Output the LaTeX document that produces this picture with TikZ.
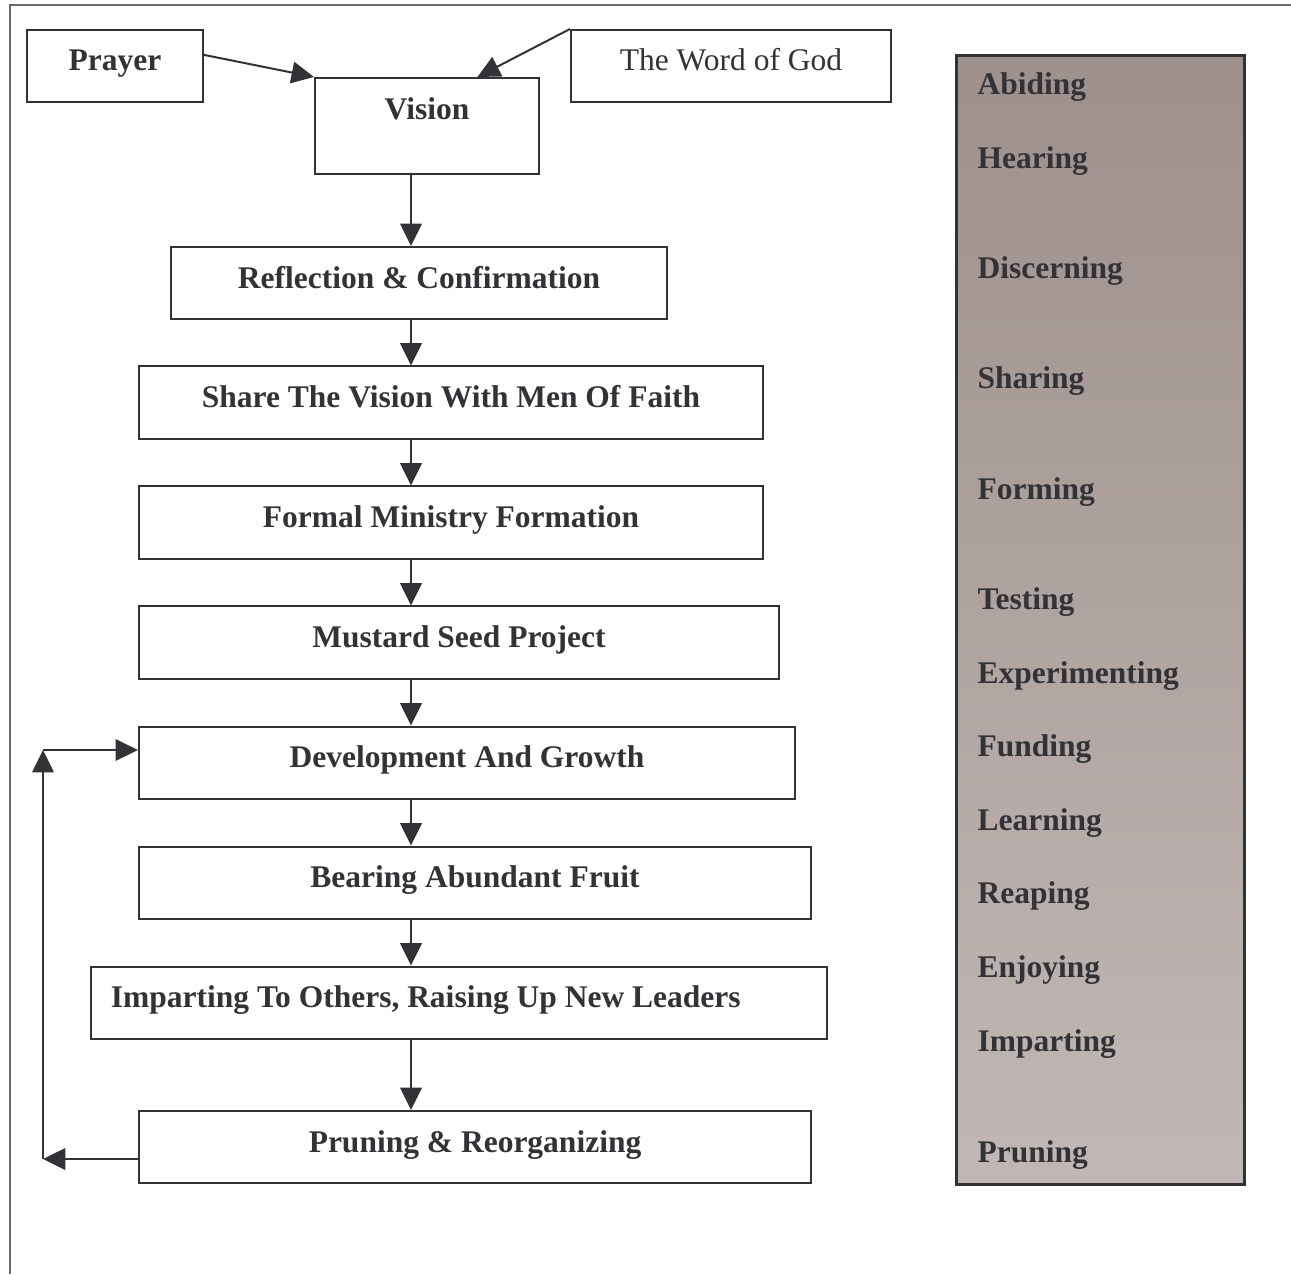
\documentclass[tikz,border=0pt]{standalone}
\usepackage{fontspec}
\setmainfont{Liberation Serif}
\usetikzlibrary{positioning,calc,arrows.meta}
\definecolor{ink}{RGB}{50,50,55}
\definecolor{stagetop}{RGB}{158,144,140}
\definecolor{stagebot}{RGB}{193,184,181}
\tikzstyle{step_box} = [draw=ink,
						line width=0.025cm,
						minimum height=0.9cm,
						inner sep=0pt,
						text=ink,
						font=\fontsize{11.2}{13.4}\selectfont\bfseries,
						text height=0.125cm,
						text depth=0cm,
						align=center]
\tikzstyle{stage_label} = [text=ink,
						   inner sep=0pt,
						   anchor=base west,
						   font=\fontsize{11.2}{13.4}\selectfont\bfseries]
\tikzstyle{flow} = [draw=ink,
					line width=0.025cm,
					-{Triangle[length=0.28cm,width=0.27cm]}]

\begin{document}
\begin{tikzpicture}[x=0.0125cm,y=-0.0125cm]
		\useasboundingbox (0,0) rectangle (1291,1274);
		\draw[gray!70!ink, line width=0.03cm] (10,1274) -- (10,5) -- (1291,5);

		%%%%%%%%%%%%
		% TOP ROW  %
		%%%%%%%%%%%%
		\node[step_box, minimum width=2.2cm] (pray) at (115,66) {Prayer};
		\node[step_box, minimum width=2.8cm, minimum height=1.2cm, text height=0cm, text depth=0.15cm] (vis) at (427,126) {Vision};
		\node[step_box, minimum width=4cm, font=\fontsize{11.2}{13.4}\selectfont] (word) at (731,66) {The Word of God};

		%%%%%%%%%%%%
		% STEPS    %
		%%%%%%%%%%%%
		\node[step_box, minimum width=6.2cm] (refl) at (419,283) {Reflection \& Confirmation};
		\node[step_box, minimum width=7.8cm] (share) at (451,402.5) {Share The Vision With Men Of Faith};
		\node[step_box, minimum width=7.8cm] (form) at (451,522.5) {Formal Ministry Formation};
		\node[step_box, minimum width=8cm] (seed) at (459,642.5) {Mustard Seed Project};
		\node[step_box, minimum width=8.2cm] (dev) at (467,762.5) {Development And Growth};
		\node[step_box, minimum width=8.4cm] (fruit) at (475,882.5) {Bearing Abundant Fruit};
		\node[step_box, text width=8.7cm, inner xsep=0.25cm, align=flush left] (impart) at (459,1002.5) {Imparting To Others, Raising Up New Leaders};
		\node[step_box, minimum width=8.4cm] (prun) at (475,1147) {Pruning \& Reorganizing};

		%%%%%%%%%%%%
		% ARROWS   %
		%%%%%%%%%%%%
		\coordinate (spine) at (411,0);
		\draw[flow] ($(pray.north east)!0.35!(pray.south east)$) -- (vis.north west);
		\draw[flow] (word.north west) -- ($(vis.north west)!0.723!(vis.north east)$);
		\draw[flow] (vis.south -| spine) -- (refl.north -| spine);
		\draw[flow] (refl.south -| spine) -- (share.north -| spine);
		\draw[flow] (share.south -| spine) -- (form.north -| spine);
		\draw[flow] (form.south -| spine) -- (seed.north -| spine);
		\draw[flow] (seed.south -| spine) -- (dev.north -| spine);
		\draw[flow] (dev.south -| spine) -- (fruit.north -| spine);
		\draw[flow] (fruit.south -| spine) -- (impart.north -| spine);
		\draw[flow] (impart.south -| spine) -- (prun.north -| spine);

		% feedback loop
		\coordinate (loopbot) at (43,1159);
		\coordinate (looptop) at (43,750);
		\draw[flow] (prun.west |- loopbot) -- (loopbot);
		\draw[flow] (loopbot) -- (looptop);
		\draw[flow] (looptop) -- (dev.west |- looptop);

		%%%%%%%%%%%%
		% STAGES   %
		%%%%%%%%%%%%
		\node[draw=ink, line width=0.035cm, top color=stagetop, bottom color=stagebot, minimum width=3.6cm, minimum height=14.1125cm, anchor=north west, inner sep=0pt] (stages) at (955,54) {};
		\node[stage_label] (abide) at (977,95) {Abiding};
		\node[stage_label] (hear) at (977,168) {Hearing};
		\node[stage_label] (discern) at (977,278) {Discerning};
		\node[stage_label] (sharing) at (977,388) {Sharing};
		\node[stage_label] (forming) at (977,499) {Forming};
		\node[stage_label] (test) at (977,609) {Testing};
		\node[stage_label] (exper) at (977,683) {Experimenting};
		\node[stage_label] (fund) at (977,756) {Funding};
		\node[stage_label] (learn) at (977,830) {Learning};
		\node[stage_label] (reap) at (977,903) {Reaping};
		\node[stage_label] (enjoy) at (977,977) {Enjoying};
		\node[stage_label] (imparting) at (977,1051) {Imparting};
		\node[stage_label] (pruning) at (977,1162) {Pruning};

\end{tikzpicture}
\end{document}
